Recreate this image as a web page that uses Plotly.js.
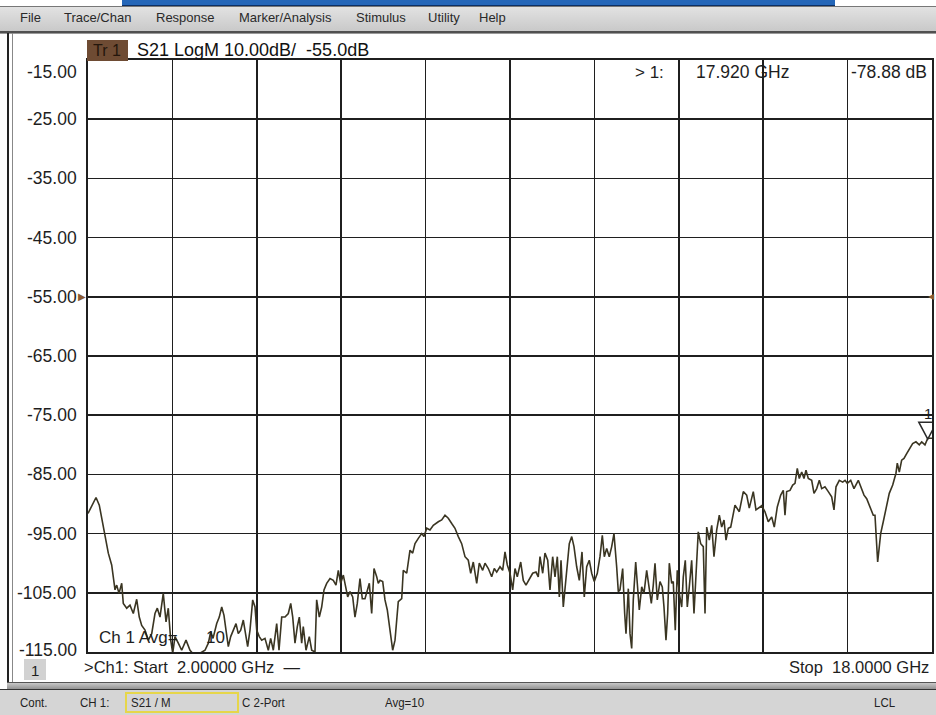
<!DOCTYPE html>
<html>
<head>
<meta charset="utf-8">
<script src="https://cdn.plot.ly/plotly-3.0.1.min.js"></script>
<style>
  html, body { margin:0; padding:0; background:#fff; }
  #wrap { position:relative; width:936px; height:715px; overflow:hidden; background:#fff;
          font-family:"Liberation Sans", Arial, sans-serif; }
  #plot { position:absolute; left:0; top:0; width:936px; height:715px; }
  .c { position:absolute; pointer-events:none; z-index:5; }
  .m { position:absolute; top:10px; font-size:13px; color:#2a2a2a; white-space:nowrap; }
  .s { position:absolute; top:696px; font-size:12.5px; color:#222; white-space:nowrap; transform:scaleX(0.92); transform-origin:left; }
</style>
</head>
<body>
<div id="wrap">
  <div id="plot"></div>
  <!-- window chrome -->
  <div class="c" style="left:122px;top:0;width:713px;height:5px;background:#2466b8;border-bottom:1px solid #0b2f66;"></div>
  <div class="c" style="left:0;top:6px;width:936px;height:24px;background:linear-gradient(#e2e2e2,#c9c9c9);border-top:1px solid #777;border-bottom:2px solid #505050;">
    <span class="m" style="left:20px;top:3px">File</span>
    <span class="m" style="left:64px;top:3px">Trace/Chan</span>
    <span class="m" style="left:156px;top:3px">Response</span>
    <span class="m" style="left:239px;top:3px">Marker/Analysis</span>
    <span class="m" style="left:356px;top:3px">Stimulus</span>
    <span class="m" style="left:428px;top:3px">Utility</span>
    <span class="m" style="left:479px;top:3px">Help</span>
  </div>
  <div class="c" style="left:0;top:33px;width:936px;height:1px;background:#999;"></div>
  <div class="c" style="left:7px;top:33px;width:2px;height:652px;background:#222;"></div>
  <div class="c" style="left:12px;top:33px;width:1px;height:652px;background:#888;"></div>
  <div class="c" style="left:7px;top:682px;width:929px;height:7px;background:linear-gradient(#c8c8c8,#8a8a8a);border-top:1px solid #555;"></div>
  <div class="c" style="left:0;top:689px;width:936px;height:26px;background:#d5d5d5;border-top:1px solid #333;">
  </div>
  <div class="c" style="left:125px;top:692px;width:110px;height:17px;border:2px solid #e6d64a;"></div>
  <span class="c s" style="left:20px">Cont.</span>
  <span class="c s" style="left:80px">CH 1:</span>
  <span class="c s" style="left:131px">S21 / M</span>
  <span class="c s" style="left:242px">C 2-Port</span>
  <span class="c s" style="left:385px">Avg=10</span>
  <span class="c s" style="left:874px">LCL</span>
</div>
<script>
// ---- data ----
const freqGHz = [
2.000,2.152,2.214,2.290,2.385,2.449,2.512,2.544,2.588,2.639,2.669,2.734,2.796,2.859,2.923,2.972,3.018,3.081,3.143,3.208,
3.270,3.314,3.365,3.427,3.479,3.522,3.568,3.606,3.649,3.712,3.776,3.858,3.934,4.009,4.123,4.218,4.281,4.326,4.370,4.440,
4.489,4.535,4.578,4.616,4.660,4.705,4.754,4.806,4.849,4.895,4.944,4.986,5.027,5.071,5.122,5.166,5.198,5.247,5.293,5.355,
5.418,5.463,5.513,5.577,5.621,5.672,5.735,5.797,5.843,5.881,5.924,5.968,6.006,6.051,6.081,6.133,6.195,6.241,6.303,6.335,
6.385,6.430,6.474,6.525,6.588,6.650,6.701,6.745,6.790,6.840,6.885,6.923,6.967,7.018,7.061,7.105,7.156,7.200,7.251,7.295,
7.333,7.378,7.422,7.473,7.503,7.536,7.587,7.630,7.674,7.725,7.776,7.820,7.852,7.882,7.947,7.977,8.042,8.104,8.155,8.199,
8.262,8.326,8.370,8.421,8.483,8.546,8.641,8.705,8.768,8.830,8.895,8.957,9.020,9.084,9.147,9.209,9.255,9.304,9.369,9.418,
9.482,9.526,9.589,9.653,9.702,9.748,9.810,9.861,9.905,9.949,10.000,10.051,10.095,10.138,10.203,10.252,10.303,10.366,10.430,10.493,
10.536,10.569,10.620,10.663,10.715,10.758,10.809,10.853,10.897,10.935,10.967,11.010,11.043,11.075,11.124,11.170,11.213,11.264,11.314,11.365,
11.408,11.454,11.503,11.549,11.598,11.655,11.706,11.750,11.788,11.833,11.882,11.928,11.971,12.022,12.053,12.085,12.136,12.174,12.199,12.243,
12.275,12.307,12.337,12.383,12.421,12.451,12.497,12.540,12.591,12.641,12.679,12.716,12.749,12.792,12.843,12.887,12.919,12.957,12.989,13.020,
13.065,13.095,13.133,13.171,13.209,13.255,13.285,13.323,13.361,13.399,13.444,13.488,13.526,13.569,13.615,13.664,13.697,13.729,13.778,13.824,
13.867,13.918,13.968,14.013,14.057,14.095,14.138,14.184,14.265,14.347,14.423,14.487,14.536,14.612,14.663,14.771,14.834,14.896,14.961,15.010,
15.067,15.132,15.181,15.213,15.245,15.308,15.359,15.403,15.446,15.484,15.530,15.573,15.611,15.655,15.719,15.763,15.814,15.864,15.909,15.971,
16.034,16.098,16.142,16.180,16.243,16.307,16.351,16.394,16.459,16.521,16.603,16.667,16.711,16.762,16.824,16.887,16.919,16.951,16.970,17.001,
17.027,17.076,17.128,17.190,17.255,17.317,17.342,17.380,17.425,17.469,17.520,17.583,17.633,17.696,17.759,17.805,17.867,17.920,18.000
];
const s21dB = [
-91.6,-88.9,-90.2,-93.9,-98.3,-100.3,-104.5,-103.7,-105.1,-103.4,-106.8,-107.6,-107.1,-108.5,-106.1,-109.1,-110.5,-111.3,-113.0,-111.9,
-108.5,-107.6,-109.1,-105.1,-109.9,-107.6,-113.0,-115.2,-112.4,-113.5,-114.7,-113.0,-114.7,-115.5,-115.2,-114.7,-113.5,-111.6,-112.7,-110.2,
-109.1,-107.4,-108.8,-111.3,-114.1,-112.4,-111.3,-110.2,-111.9,-111.3,-109.6,-111.6,-114.1,-111.3,-106.2,-107.4,-111.3,-112.4,-113.0,-112.7,
-114.7,-112.7,-114.7,-110.2,-114.7,-109.1,-109.1,-108.5,-106.8,-109.1,-113.5,-110.7,-109.1,-113.5,-110.7,-114.7,-112.4,-114.7,-115.0,-106.2,
-109.1,-107.4,-104.5,-103.4,-102.6,-102.9,-103.7,-101.2,-103.4,-102.0,-104.0,-105.7,-104.8,-105.7,-109.1,-106.8,-102.6,-106.0,-106.0,-104.8,
-103.4,-108.5,-100.9,-102.3,-103.4,-102.9,-103.1,-106.2,-107.9,-111.3,-114.7,-113.0,-109.1,-106.5,-106.0,-101.2,-101.7,-97.8,-98.3,-96.7,
-95.8,-95.0,-95.5,-94.1,-94.4,-93.6,-93.0,-92.7,-91.9,-92.4,-93.3,-94.1,-95.5,-96.7,-98.9,-99.5,-101.7,-99.8,-103.4,-100.0,
-101.2,-100.0,-100.9,-102.3,-100.9,-101.5,-100.6,-101.2,-98.1,-100.3,-101.7,-104.5,-100.9,-102.3,-99.8,-102.9,-103.7,-102.6,-101.7,-101.5,
-102.3,-98.9,-101.7,-98.3,-99.5,-104.5,-98.9,-102.3,-98.9,-105.7,-99.5,-107.4,-104.0,-101.7,-96.7,-95.5,-97.2,-100.6,-102.9,-98.1,
-105.7,-100.6,-99.5,-101.7,-103.1,-101.7,-98.9,-95.3,-98.9,-97.5,-98.9,-97.2,-95.0,-100.6,-104.8,-104.5,-100.9,-108.5,-111.9,-104.3,
-111.9,-114.4,-106.2,-99.8,-104.0,-107.9,-104.0,-105.1,-101.2,-104.0,-106.8,-103.7,-100.0,-106.2,-103.1,-104.0,-107.4,-113.0,-108.5,-100.0,
-103.4,-103.1,-111.3,-101.2,-105.1,-107.4,-102.3,-99.5,-107.4,-104.0,-99.5,-108.5,-101.7,-94.7,-96.7,-97.2,-108.5,-93.9,-96.1,-93.6,
-98.9,-94.4,-91.9,-93.9,-92.7,-96.1,-94.1,-93.9,-90.2,-91.3,-87.9,-88.5,-90.7,-87.9,-91.0,-90.3,-91.3,-93.0,-92.2,-93.9,
-90.5,-88.5,-87.7,-91.9,-87.9,-87.7,-86.8,-86.5,-84.0,-85.7,-84.6,-85.7,-84.3,-85.7,-86.0,-88.2,-87.4,-86.0,-87.4,-87.1,
-87.9,-88.8,-91.0,-87.1,-86.0,-86.3,-86.0,-86.5,-86.0,-87.4,-86.0,-87.4,-88.5,-89.1,-90.5,-91.9,-91.9,-97.2,-99.8,-97.2,
-95.0,-93.0,-90.5,-88.2,-86.8,-84.8,-83.1,-84.6,-82.6,-82.3,-81.5,-80.6,-79.8,-79.5,-80.0,-79.5,-80.0,-78.9,-78.9
];
const markerFreq = [17.920];
const markerDb = [-78.88];
const yTicks = [-15,-25,-35,-45,-55,-65,-75,-85,-95,-105,-115];
const yTickText = ["-15.00","-25.00","-35.00","-45.00","-55.00","-65.00","-75.00","-85.00","-95.00","-105.00","-115.00"];
const refLevel = -55;
const startGHz = 2, stopGHz = 18, perDiv = 10;

// ---- layout helpers (pixel -> paper) ----
const L = 88, R = 4, T = 60, B = 63, W = 936, H = 715;
const PW = W - L - R, PH = H - T - B;
const pX = x => (x - L) / PW;
const pY = y => (T + PH - y) / PH;
const FONT = '"Liberation Sans", Arial, sans-serif';
const ink = '#1e1e1e';

const ann = [];
yTicks.forEach((v, i) => {
  const last = i === yTicks.length - 1;
  ann.push({xref:'paper', x:0, xanchor:'right', xshift:-10, yref:'y', y:v, yanchor:'middle',
            yshift: (i === 0 ? -12 : (last ? 2 : 0)), borderpad:0, text:yTickText[i], showarrow:false,
            font:{family:FONT, size:17.5, color:ink}});
});
// reference level arrows
ann.push({xref:'paper', x:0, xanchor:'right', xshift:0, yref:'y', y:refLevel, yanchor:'middle',
          text:'▶', showarrow:false, font:{family:'DejaVu Sans', size:10, color:'#8a5a32'}});
ann.push({xref:'paper', x:1, xanchor:'right', xshift:4, yref:'y', y:refLevel, yanchor:'middle',
          text:'◀', showarrow:false, borderpad:0, font:{family:'DejaVu Sans', size:8, color:'#8a5a32'}});
// header
ann.push({xref:'paper', x:pX(135), xanchor:'left', yref:'paper', y:pY(50), yanchor:'middle',
          text:'S21 LogM ' + perDiv.toFixed(2) + 'dB/  ' + refLevel.toFixed(1) + 'dB', showarrow:false,
          font:{family:FONT, size:18, color:'#111'}});
ann.push({xref:'paper', x:pX(91), xanchor:'left', yref:'paper', y:pY(50), yanchor:'middle',
          text:'Tr 1', showarrow:false, font:{family:FONT, size:16, color:'#24160c'}});
// marker readout
ann.push({xref:'paper', x:pX(666), xanchor:'right', yref:'paper', y:pY(72), yanchor:'middle',
          text:'&gt; 1:', showarrow:false, font:{family:FONT, size:17, color:ink}});
ann.push({xref:'paper', x:pX(791), xanchor:'right', yref:'paper', y:pY(72), yanchor:'middle',
          text: markerFreq[0].toFixed(3) + ' GHz', showarrow:false, font:{family:FONT, size:17.5, color:ink}});
ann.push({xref:'paper', x:pX(929), xanchor:'right', yref:'paper', y:pY(72), yanchor:'middle',
          text: markerDb[0].toFixed(2) + ' dB', showarrow:false, font:{family:FONT, size:17.5, color:ink}});
// marker label
ann.push({xref:'x', x:markerFreq[0], yref:'y', y:markerDb[0], yanchor:'bottom', yshift:14,
          text:'1', showarrow:false, font:{family:FONT, size:15, color:ink}});
// channel info
ann.push({xref:'paper', x:pX(97), xanchor:'left', yref:'paper', y:pY(637), yanchor:'middle',
          text:'Ch 1 Avg=', showarrow:false, font:{family:FONT, size:17, color:ink}});
ann.push({xref:'paper', x:pX(204), xanchor:'left', yref:'paper', y:pY(637), yanchor:'middle',
          text:'10', showarrow:false, font:{family:FONT, size:17, color:ink}});
// bottom line
ann.push({xref:'paper', x:pX(35), xanchor:'center', yref:'paper', y:pY(670), yanchor:'middle',
          text:'1', showarrow:false, borderpad:0, font:{family:FONT, size:15, color:ink}});
ann.push({xref:'paper', x:pX(82), xanchor:'left', yref:'paper', y:pY(667), yanchor:'middle',
          text:'&gt;Ch1: Start  ' + startGHz.toFixed(5) + ' GHz  —', showarrow:false,
          font:{family:FONT, size:16.5, color:ink}});
ann.push({xref:'paper', x:pX(931), xanchor:'right', yref:'paper', y:pY(667), yanchor:'middle',
          text:'Stop  ' + stopGHz.toFixed(4) + ' GHz', showarrow:false,
          font:{family:FONT, size:16.5, color:ink}});

const shapes = [
  {type:'rect', xref:'paper', yref:'paper', x0:pX(87), x1:pX(128), y0:pY(61), y1:pY(40),
   fillcolor:'#6e4b33', line:{width:0}, layer:'above'},
  {type:'rect', xref:'paper', yref:'paper', x0:pX(24), x1:pX(46), y0:pY(680), y1:pY(659),
   fillcolor:'#d2d2d2', line:{width:0}, layer:'above'},
  // marker 1 triangle, apex on the data point
  {type:'path', xref:'x', yref:'y', xsizemode:'pixel', ysizemode:'pixel',
   xanchor:markerFreq[0], yanchor:markerDb[0],
   path:'M -9 16 L 9 16 L 0 -1 Z', line:{color:'#2a2a2a', width:1.5}, fillcolor:'rgba(0,0,0,0)', layer:'above'}
];

const traces = [
  {x:freqGHz, y:s21dB, type:'scatter', mode:'lines',
   line:{color:'#3a3522', width:1.6}, hoverinfo:'x+y'}
];

const layout = {
  width:W, height:H, margin:{l:L, r:R, t:T, b:B, pad:0},
  paper_bgcolor:'rgba(0,0,0,0)', plot_bgcolor:'#ffffff',
  showlegend:false,
  xaxis:{range:[startGHz, stopGHz], dtick:1.6, tick0:startGHz, showticklabels:false, ticks:'',
         showgrid:true, gridcolor:'#1f1f1f', gridwidth:1.7, zeroline:false,
         showline:true, mirror:true, linecolor:'#1f1f1f', linewidth:1.7, fixedrange:true},
  yaxis:{range:[-115, -15], dtick:10, tick0:-15, showticklabels:false, ticks:'',
         showgrid:true, gridcolor:'#1f1f1f', gridwidth:1.7, zeroline:false,
         showline:true, mirror:true, linecolor:'#1f1f1f', linewidth:1.7, fixedrange:true},
  annotations:ann, shapes:shapes
};

Plotly.newPlot('plot', traces, layout, {displayModeBar:false, staticPlot:true});
</script>
</body>
</html>
